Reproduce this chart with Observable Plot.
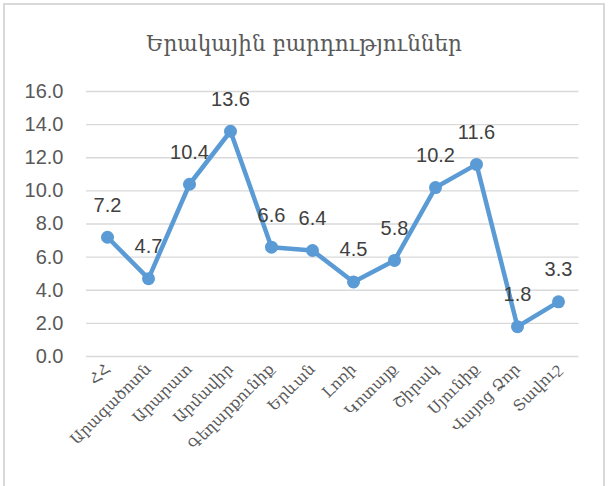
<!DOCTYPE html>
<html>
<head>
<meta charset="utf-8">
<script src="https://cdn.jsdelivr.net/npm/d3@7"></script>
<script src="https://cdn.jsdelivr.net/npm/@observablehq/plot@0.6"></script>
<style>
  html, body { margin: 0; padding: 0; background: #fff; }
  #frame { position: absolute; left: 3px; top: 3px; width: 602px; height: 500px; border: 2px solid #d9d9d9; border-bottom: none; box-sizing: border-box; }
  #wrap { position: absolute; left: 0; top: 0; width: 608px; }
  #title { height: 70px; line-height: 88px; text-align: center; font-family: "DejaVu Serif", serif; font-size: 21.5px; color: #595959; }
</style>
</head>
<body>
<div id="frame"></div>
<div id="wrap">
  <div id="title">Երակային բարդություններ</div>
  <div id="chart"></div>
</div>
<script>
const categories = ["ՀՀ", "Արագածոտն", "Արարատ", "Արմավիր", "Գեղարքունիք", "Երևան", "Լոռի", "Կոտայք", "Շիրակ", "Սյունիք", "Վայոց Ձոր", "Տավուշ"];
const values = [7.2, 4.7, 10.4, 13.6, 6.6, 6.4, 4.5, 5.8, 10.2, 11.6, 1.8, 3.3];
const yTicks = [0, 2, 4, 6, 8, 10, 12, 14, 16];

const data = categories.map((c, i) => ({ cat: c, v: values[i] }));

const chart = Plot.plot({
  width: 608,
  height: 416,
  marginLeft: 86,
  marginRight: 29.5,
  marginTop: 21,
  marginBottom: 130,
  style: { background: "transparent", overflow: "visible" },
  x: { type: "point", domain: categories, padding: 0.5 },
  y: { domain: [0, 16] },
  marks: [
    Plot.gridY(yTicks, { stroke: "#d9d9d9", strokeOpacity: 1, strokeWidth: 1.3 }),
    Plot.axisY(yTicks, { tickSize: 0, tickPadding: 23, tickFormat: d => d.toFixed(1), fontSize: 20, fill: "#595959", fontFamily: "Liberation Sans, Arial, sans-serif", label: null }),
    Plot.axisX({ tickSize: 0, tickPadding: 10, tickRotate: -45, fontSize: 15.5, fill: "#595959", fontFamily: "DejaVu Serif, serif", label: null }),
    Plot.line(data, { x: "cat", y: "v", stroke: "#5b9bd5", strokeWidth: 4.5, strokeLinejoin: "round" }),
    Plot.dot(data, { x: "cat", y: "v", r: 6.5, fill: "#5b9bd5", stroke: "none" }),
    Plot.text(data, { x: "cat", y: "v", text: d => d.v.toFixed(1), dy: -32, lineAnchor: "middle", fontSize: 20, fill: "#404040", fontFamily: "Liberation Sans, Arial, sans-serif" })
  ]
});
document.getElementById("chart").appendChild(chart);
</script>
</body>
</html>
